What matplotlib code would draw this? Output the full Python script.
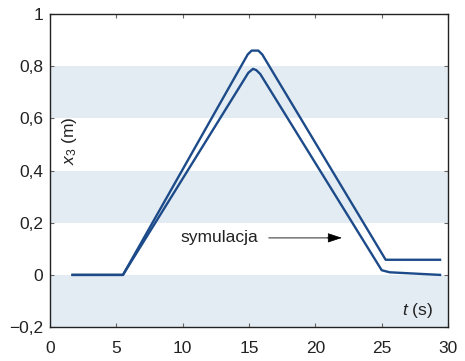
import matplotlib
matplotlib.use("Agg")
import matplotlib.pyplot as plt

plt.rcParams['font.family'] = ['Liberation Sans', 'DejaVu Sans']
plt.rcParams['mathtext.fontset'] = 'custom'
plt.rcParams['mathtext.rm'] = 'Liberation Sans'
plt.rcParams['mathtext.it'] = 'Liberation Sans:italic'

# punkty przebiegów
t_gorny = [1.7, 5.5, 14.9, 15.2, 15.7, 16.0, 25.3, 29.4]
x_gorny = [0.0, 0.0, 0.845, 0.86, 0.86, 0.845, 0.058, 0.058]
t_dolny = [1.7, 5.5, 14.95, 15.3, 15.55, 15.85, 25.0, 25.6, 29.4]
x_dolny = [0.0, 0.0, 0.775, 0.79, 0.785, 0.77, 0.018, 0.01, 0.0]

x_ticks = [0, 5, 10, 15, 20, 25, 30]
y_ticks = [-0.2, 0, 0.2, 0.4, 0.6, 0.8, 1]
y_labels = ['\u22120,2', '0', '0,2', '0,4', '0,6', '0,8', '1']
pasy = [(-0.2, 0.0), (0.2, 0.4), (0.6, 0.8)]

kolor = '#1d4b8a'
tlo = '#e3ecf2'
fs = 12.5

fig = plt.figure(figsize=(4.65, 3.61), dpi=100)
ax = fig.add_axes([0.1075, 0.094, 0.856, 0.867])

for a, b in pasy:
    ax.axhspan(a, b, color=tlo, lw=0, zorder=0)

ax.plot(t_gorny, x_gorny, color=kolor, lw=1.7, solid_joinstyle='round', zorder=3)
ax.plot(t_dolny, x_dolny, color=kolor, lw=1.7, solid_joinstyle='round', zorder=3)

ax.set_xlim(0, 30)
ax.set_ylim(-0.2, 1)
ax.set_xticks(x_ticks)
ax.set_yticks(y_ticks)
ax.set_yticklabels(y_labels)
ax.tick_params(direction='in', length=3, width=0.8, color='#666666',
               top=True, right=True, labelsize=fs, labelcolor='#222222')
ax.tick_params(axis='x', pad=10)
ax.tick_params(axis='y', pad=5)
for s in ax.spines.values():
    s.set_linewidth(1.0)
    s.set_color('#222222')

ax.text(1.45, 0.513, '$x_3$ (m)', rotation=90, ha='center', va='center',
        fontsize=fs, color='#222222')
ax.text(28.85, -0.137, '$t$ (s)', ha='right', va='center', fontsize=fs,
        color='#222222')
ax.text(9.8, 0.142, 'symulacja', ha='left', va='center', fontsize=fs,
        color='#222222')
# strzałka: szary trzon, czarny grot
ax.annotate('', xy=(21.0, 0.142), xytext=(16.5, 0.142),
            arrowprops=dict(arrowstyle='-', color='#666666', lw=1.0,
                            shrinkA=0, shrinkB=0))
ax.annotate('', xy=(22.0, 0.142), xytext=(20.9, 0.142),
            arrowprops=dict(arrowstyle='-|>,head_length=0.9,head_width=0.3',
                            fc='black', ec='black', lw=0.5,
                            shrinkA=0, shrinkB=0))

fig.savefig('out.png', dpi=100)
